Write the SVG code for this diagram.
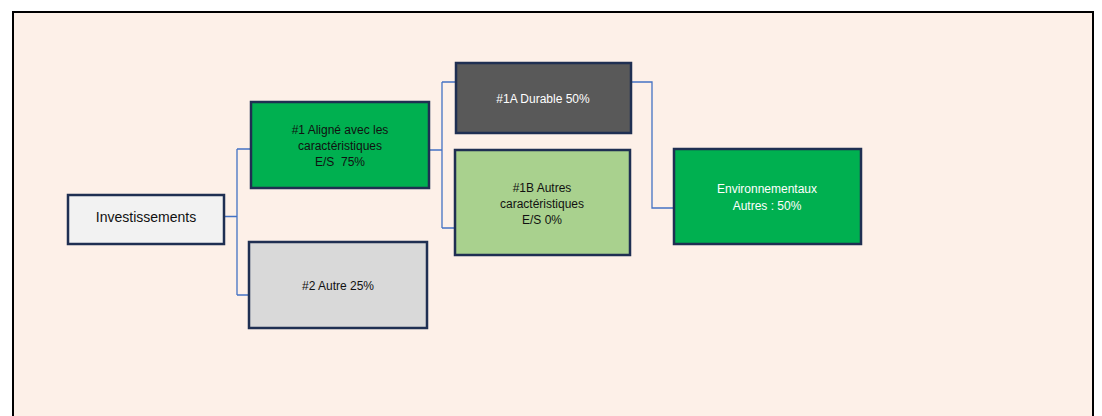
<svg xmlns="http://www.w3.org/2000/svg" width="1102" height="416" viewBox="0 0 1102 416">
<style>
.box{stroke:#1f2f52;stroke-width:2.5}
.t{font-family:"Liberation Sans",Arial,sans-serif;font-size:12px;text-anchor:middle;fill:#111;white-space:pre}
.w{fill:#fff}
.c{fill:none;stroke:#4472c4;stroke-width:1.3}
</style>
<rect x="0" y="0" width="1102" height="416" fill="#ffffff"/>
<rect x="13" y="12" width="1080" height="420" fill="#fdf0e8" stroke="#000" stroke-width="2"/>
<g id="connectors">
<path class="c" d="M224 216.5H237M237 149V295M237 149H251M237 295H249"/>
<path class="c" d="M429 150H442M442 82V228M442 82H456M442 228H455"/>
<path class="c" d="M631 82H652V208H674"/>
</g>
<g id="investissements">
<rect class="box" x="68" y="195" width="156" height="49" fill="#f2f2f2"/>
<text class="t" x="146" y="221.5" style="font-size:14px">Investissements</text>
</g>
<g id="n1">
<rect class="box" x="251" y="102" width="178" height="86" fill="#00b050"/>
<text class="t" x="340" y="134">#1 Aligné avec les</text>
<text class="t" x="340" y="150">caractéristiques</text>
<text class="t" x="340" y="166" xml:space="preserve">E/S  75%</text>
</g>
<g id="n2">
<rect class="box" x="249" y="242" width="178" height="86" fill="#d9d9d9"/>
<text class="t" x="338" y="290">#2 Autre 25%</text>
</g>
<g id="n1a">
<rect class="box" x="456" y="63" width="175" height="70" fill="#595959"/>
<text class="t w" x="543" y="103">#1A Durable 50%</text>
</g>
<g id="n1b">
<rect class="box" x="455" y="150" width="175" height="105" fill="#a9d18e"/>
<text class="t" x="542" y="192">#1B Autres</text>
<text class="t" x="542" y="208">caractéristiques</text>
<text class="t" x="542" y="224">E/S 0%</text>
</g>
<g id="env">
<rect class="box" x="674" y="149" width="187" height="95" fill="#00b050"/>
<text class="t w" x="767" y="193">Environnementaux</text>
<text class="t w" x="767" y="210">Autres : 50%</text>
</g>
</svg>
